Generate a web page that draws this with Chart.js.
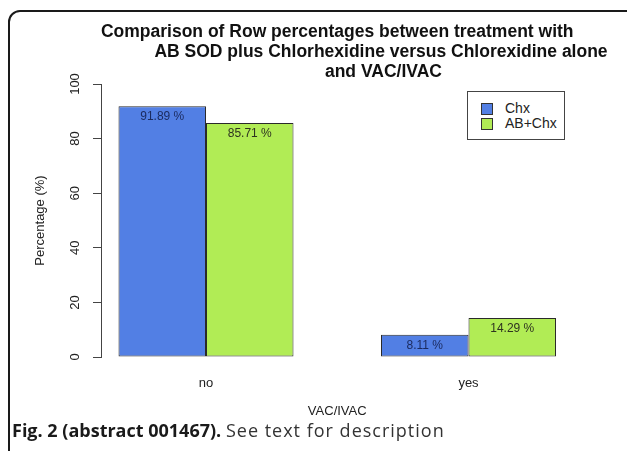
<!DOCTYPE html>
<html>
<head>
<meta charset="utf-8">
<script src="https://cdn.jsdelivr.net/npm/chart.js@4.4.1/dist/chart.umd.min.js"></script>
<style>
  html, body { margin: 0; padding: 0; background: #fff; width: 627px; height: 451px; overflow: hidden; }
  #frame { position: absolute; left: 8px; top: 10px; width: 700px; height: 500px; border: 2px solid #1a1a1a; border-radius: 12px; box-sizing: border-box; }
  #wrap { position: absolute; left: 0; top: 0; width: 627px; height: 451px; }
  #legend { position: absolute; left: 467px; top: 91px; width: 98px; height: 49px; border: 1px solid #444; box-sizing: border-box; background: #fff; font-family: "Liberation Sans", Arial, sans-serif; font-size: 14px; color: #222; }
  .item { position: absolute; left: 13px; height: 15px; line-height: 15px; }
  .sw { position: absolute; left: 0; top: 2px; width: 10px; height: 10px; border: 1px solid #333; }
  .lab { position: absolute; left: 24px; top: 0; white-space: nowrap; }
  #caption { position: absolute; left: 12px; top: 418px; font-family: "Open Sans", sans-serif; font-size: 18px; line-height: 25px; color: #1a1a1a; white-space: nowrap; }
  #caption span { letter-spacing: 1px; color: #333; }
</style>
</head>
<body>
<div id="frame"></div>
<div id="wrap"><canvas id="c"></canvas></div>
<div id="legend"></div>
<div id="caption"><b>Fig. 2 (abstract 001467).</b> <span>See text for description</span></div>
<script>
const categories = ['no', 'yes'];
const seriesNames = ['Chx', 'AB+Chx'];
const chxValues = [91.89, 8.11];
const abChxValues = [85.71, 14.29];
const yTicks = [0, 20, 40, 60, 80, 100];
const titleLines = [
  'Comparison of Row percentages between treatment with',
  '                  AB SOD plus Chlorhexidine versus Chlorexidine alone',
  '                   and VAC/IVAC'
];
const xTitle = 'VAC/IVAC';
const yTitle = 'Percentage (%)';

const colors = ['#527fe4', '#b1ec55'];
const labelColors = ['#1b2a5e', '#2e3320'];
const seriesValues = [chxValues, abChxValues];

// R barplot layout: group i centered at 2 + 3*i
const groupPos = categories.map((c, i) => 2 + 3 * i);

const datasets = seriesNames.map((name, s) => ({
  label: name,
  data: seriesValues[s].map((v, i) => ({ x: groupPos[i], y: v })),
  backgroundColor: colors[s],
  borderColor: '#2a2a2a',
  borderWidth: 1,
  borderSkipped: false,
  categoryPercentage: 2 / 3,
  barPercentage: 1
}));

// HTML legend built from the series
const leg = document.getElementById('legend');
seriesNames.forEach((n, s) => {
  const it = document.createElement('div');
  it.className = 'item';
  it.style.top = (9 + s * 15) + 'px';
  it.innerHTML = '<span class="sw" style="background:' + colors[s] + '"></span><span class="lab">' + n + '</span>';
  leg.appendChild(it);
});

const valueLabels = {
  id: 'valueLabels',
  afterDatasetsDraw(chart) {
    const ctx = chart.ctx;
    ctx.save();
    ctx.font = '12px "Liberation Sans", Arial, sans-serif';
    ctx.textAlign = 'center';
    ctx.textBaseline = 'middle';
    chart.data.datasets.forEach((ds, s) => {
      const meta = chart.getDatasetMeta(s);
      meta.data.forEach((el, i) => {
        ctx.fillStyle = labelColors[s];
        ctx.fillText(seriesValues[s][i].toFixed(2) + ' %', el.x, el.y + 11);
      });
    });
    ctx.restore();
  }
};

// R-style main title: each line centred over the plot region, leading spaces kept
const rTitle = {
  id: 'rTitle',
  afterDraw(chart) {
    const ctx = chart.ctx;
    const a = chart.chartArea;
    ctx.save();
    ctx.font = 'bold 17.5px "Liberation Sans", Arial, sans-serif';
    ctx.fillStyle = '#111';
    ctx.textAlign = 'center';
    ctx.textBaseline = 'middle';
    const cx = (a.left + a.right) / 2;
    titleLines.forEach((t, i) => ctx.fillText(t, cx, a.top - 52 + i * 20));
    ctx.restore();
  }
};

new Chart(document.getElementById('c'), {
  type: 'bar',
  data: { datasets },
  options: {
    responsive: true,
    maintainAspectRatio: false,
    animation: false,
    layout: { padding: { left: 33, right: 53.5, top: 84, bottom: 32 } },
    plugins: {
      legend: { display: false },
      tooltip: { enabled: false },
      title: { display: false }
    },
    scales: {
      x: {
        type: 'linear',
        min: 0.8,
        max: 6.2,
        offset: false,
        grid: { display: false, drawTicks: false, offset: false },
        border: { display: false },
        afterBuildTicks: (scale) => { scale.ticks = groupPos.map(v => ({ value: v })); },
        afterFit: (scale) => { scale.height = 62; },
        ticks: {
          padding: 19,
          color: '#222',
          font: { family: '"Liberation Sans", Arial, sans-serif', size: 13 },
          callback: (v, i) => categories[i]
        },
        title: {
          display: true,
          text: xTitle,
          color: '#222',
          font: { family: '"Liberation Sans", Arial, sans-serif', size: 13 },
          padding: { top: 0, bottom: 0 }
        }
      },
      y: {
        min: 0,
        max: 100,
        afterBuildTicks: (scale) => { scale.ticks = yTicks.map(v => ({ value: v })); },
        afterFit: (scale) => { scale.width = 68; },
        grid: { drawOnChartArea: false, drawTicks: true, tickLength: 8, color: '#444' },
        border: { display: true, color: '#444', width: 1 },
        ticks: {
          minRotation: 90,
          maxRotation: 90,
          crossAlign: 'center',
          padding: 7,
          color: '#222',
          font: { family: '"Liberation Sans", Arial, sans-serif', size: 13 }
        },
        title: {
          display: true,
          text: yTitle,
          color: '#222',
          font: { family: '"Liberation Sans", Arial, sans-serif', size: 13 },
          padding: { top: 0, bottom: 0 }
        }
      }
    }
  },
  plugins: [valueLabels, rTitle]
});
</script>
</body>
</html>
